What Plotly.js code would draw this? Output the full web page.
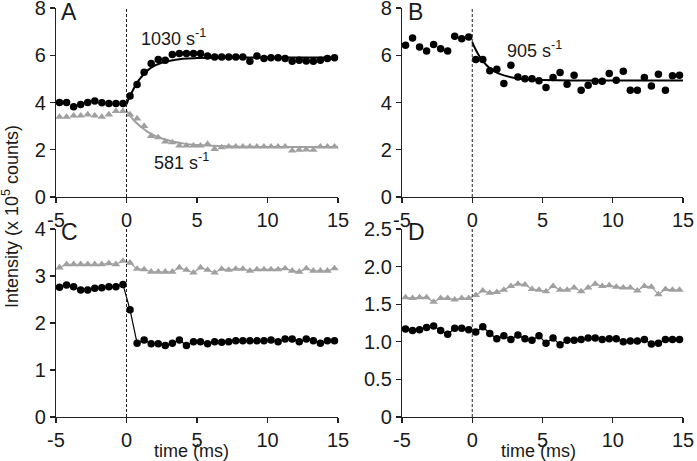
<!DOCTYPE html>
<html>
<head>
<meta charset="utf-8">
<script src="https://cdn.plot.ly/plotly-3.0.1.min.js"></script>
<style>html,body{margin:0;padding:0;background:#fff;}#chart{width:697px;height:461px;}</style>
</head>
<body>
<div id="chart"></div>
<script>
// ---- data ----
const time = [-4.75,-4.25,-3.75,-3.25,-2.75,-2.25,-1.75,-1.25,-0.75,-0.25,0.25,0.75,1.25,1.75,2.25,2.75,3.25,3.75,4.25,4.75,5.25,5.75,6.25,6.75,7.25,7.75,8.25,8.75,9.25,9.75,10.25,10.75,11.25,11.75,12.25,12.75,13.25,13.75,14.25,14.75];
const stimTime = 0;

// Panel A
const aBlack = [4.00,4.00,3.82,3.92,4.00,4.06,3.99,3.96,3.96,3.96,4.28,4.76,5.28,5.65,5.82,5.79,6.03,6.07,6.07,6.07,6.07,5.97,5.93,5.93,5.93,5.93,5.93,5.75,5.97,5.86,5.89,5.89,5.86,5.75,5.79,5.76,5.75,5.79,5.86,5.89];
const aGray  = [3.39,3.39,3.44,3.44,3.49,3.44,3.39,3.49,3.63,3.63,3.49,3.32,3.00,2.58,2.52,2.34,2.31,2.17,2.17,2.17,2.17,2.24,2.03,2.10,2.13,2.13,2.13,2.13,2.13,2.13,2.13,2.13,2.13,1.96,1.99,2.01,1.99,2.13,2.13,2.13];
const aFitBlackT = [0,0.25,0.5,0.75,1,1.5,2,2.5,3,4,5,7,10,15];
const aFitBlackY = [3.92,4.29,4.57,4.83,5.04,5.36,5.56,5.68,5.76,5.85,5.88,5.90,5.90,5.90];
const aFitGrayT  = [0,0.5,1,1.5,2,3,4,5,6,8,10,15];
const aFitGrayY  = [3.65,3.26,2.98,2.76,2.60,2.39,2.27,2.20,2.17,2.13,2.12,2.12];

// Panel B
const bBlack = [6.42,6.73,6.35,6.18,6.45,6.28,6.18,6.80,6.70,6.77,5.82,5.82,5.34,5.41,4.80,5.58,5.08,5.01,5.01,4.92,4.63,5.06,5.27,4.77,5.15,4.52,4.73,4.90,4.90,5.23,4.94,5.32,4.52,4.52,5.06,4.70,5.20,4.52,5.13,5.15];
const bFitT = [0,0.25,0.5,1,1.5,2,3,4,5,7,10,15];
const bFitY = [6.56,6.23,5.97,5.59,5.35,5.20,5.04,4.97,4.95,4.93,4.93,4.93];

// Panel C
const cBlack = [2.76,2.81,2.77,2.70,2.70,2.74,2.75,2.77,2.77,2.82,2.28,1.57,1.64,1.56,1.56,1.52,1.57,1.64,1.52,1.60,1.60,1.56,1.60,1.59,1.60,1.62,1.62,1.62,1.62,1.62,1.64,1.60,1.66,1.66,1.60,1.66,1.62,1.57,1.62,1.62];
const cGray  = [3.18,3.25,3.25,3.25,3.25,3.25,3.25,3.27,3.25,3.32,3.28,3.15,3.14,3.09,3.09,3.09,3.09,3.18,3.13,3.07,3.18,3.13,3.07,3.15,3.13,3.15,3.15,3.11,3.14,3.14,3.14,3.14,3.16,3.11,3.09,3.16,3.11,3.11,3.11,3.16];

// Panel D
const dBlack = [1.17,1.15,1.16,1.19,1.21,1.15,1.10,1.18,1.18,1.16,1.13,1.20,1.11,1.04,1.08,1.03,1.09,1.04,1.02,1.08,0.98,1.05,0.96,1.02,1.02,1.03,1.05,1.05,1.03,1.04,1.04,1.00,1.01,1.01,1.03,0.97,0.98,1.03,1.03,1.03];
const dGray  = [1.59,1.58,1.59,1.59,1.53,1.58,1.58,1.56,1.58,1.58,1.62,1.68,1.65,1.66,1.69,1.74,1.77,1.76,1.70,1.69,1.67,1.74,1.69,1.69,1.72,1.67,1.72,1.77,1.74,1.75,1.73,1.72,1.72,1.68,1.74,1.73,1.63,1.70,1.69,1.69];

const xTicks = [-5,0,5,10,15];
const yTicksAB = [0,2,4,6,8];
const yTicksC = [0,1,2,3,4];
const yTicksD = [0,0.5,1.0,1.5,2.0,2.5];
const yTickTextD = ['0','0.5','1.0','1.5','2.0','2.5'];
const panelLetters = ['A','B','C','D'];
const rates = ['1030 s<sup>-1</sup>','581 s<sup>-1</sup>','905 s<sup>-1</sup>'];

// ---- styles ----
const BLACK = '#000000';
const GRAY = '#a0a0a0';
const FONT = 'Liberation Sans';
const TXT = '#1a1a1a';
const dot = (ax) => ({type:'scatter', mode:'markers', marker:{color:BLACK, size:7.5, symbol:'circle'}, cliponaxis:false, xaxis:'x'+ax, yaxis:'y'+ax, showlegend:false, hoverinfo:'skip'});
const tri = (ax) => ({type:'scatter', mode:'markers', marker:{color:GRAY, size:7.5, symbol:'triangle-up'}, cliponaxis:false, xaxis:'x'+ax, yaxis:'y'+ax, showlegend:false, hoverinfo:'skip'});

const traces = [];
// A
traces.push(Object.assign(tri(''), {x:time, y:aGray}));
traces.push(Object.assign(dot(''), {x:time, y:aBlack}));
traces.push({type:'scatter', mode:'lines', x:aFitGrayT, y:aFitGrayY, line:{color:GRAY, width:2, shape:'spline'}, xaxis:'x', yaxis:'y', showlegend:false, hoverinfo:'skip'});
traces.push({type:'scatter', mode:'lines', x:aFitBlackT, y:aFitBlackY, line:{color:BLACK, width:2, shape:'spline'}, xaxis:'x', yaxis:'y', showlegend:false, hoverinfo:'skip'});
// B
traces.push(Object.assign(dot('2'), {x:time, y:bBlack}));
traces.push({type:'scatter', mode:'lines', x:bFitT, y:bFitY, line:{color:BLACK, width:2, shape:'spline'}, xaxis:'x2', yaxis:'y2', showlegend:false, hoverinfo:'skip'});
// C
traces.push(Object.assign(tri('3'), {x:time, y:cGray, mode:'lines+markers', line:{color:GRAY, width:1.2}}));
traces.push(Object.assign(dot('3'), {x:time, y:cBlack, mode:'lines+markers', line:{color:BLACK, width:1.2}}));
// D
traces.push(Object.assign(tri('4'), {x:time, y:dGray, mode:'lines+markers', line:{color:GRAY, width:1.2}}));
traces.push(Object.assign(dot('4'), {x:time, y:dBlack, mode:'lines+markers', line:{color:BLACK, width:1.2}}));

const W = 697, H = 461;
const px2x = (p) => p / W;
const px2y = (p) => 1 - p / H;

const baseX = {range:[-5,15], tickvals:xTicks, ticktext:xTicks.map(String), showline:true, linecolor:'#222', linewidth:1.2, ticks:'outside', ticklen:5, tickwidth:1.2, tickcolor:'#222', showgrid:false, zeroline:false, tickfont:{family:FONT, size:20, color:TXT}, ticklabeloverflow:'allow', fixedrange:true};
const baseY = {showline:true, linecolor:'#222', linewidth:1.2, ticks:'outside', ticklen:5, tickwidth:1.2, tickcolor:'#222', showgrid:false, zeroline:false, tickfont:{family:FONT, size:20, color:TXT}, ticklabeloverflow:'allow', fixedrange:true};

const domXL = [px2x(56), px2x(338)];
const domXR = [px2x(402), px2x(683)];
const domYT = [px2y(197), px2y(8)];
const domYB = [px2y(417), px2y(229)];

const letter = (t, xp, yp) => ({text:t, xref:'paper', yref:'paper', x:px2x(xp), y:px2y(yp), xanchor:'left', yanchor:'middle', showarrow:false, font:{family:FONT, size:23, color:TXT}});

const layout = {
  width:W, height:H,
  margin:{l:0, r:0, t:0, b:0},
  paper_bgcolor:'#fff', plot_bgcolor:'#fff',
  showlegend:false,
  xaxis: Object.assign({}, baseX, {domain:domXL, anchor:'y'}),
  yaxis: Object.assign({}, baseY, {domain:domYT, anchor:'x', range:[0,8], tickvals:yTicksAB, ticktext:yTicksAB.map(String)}),
  xaxis2: Object.assign({}, baseX, {domain:domXR, anchor:'y2'}),
  yaxis2: Object.assign({}, baseY, {domain:domYT, anchor:'x2', range:[0,8], tickvals:yTicksAB, ticktext:yTicksAB.map(String)}),
  xaxis3: Object.assign({}, baseX, {domain:domXL, anchor:'y3'}),
  yaxis3: Object.assign({}, baseY, {domain:domYB, anchor:'x3', range:[0,4], tickvals:yTicksC, ticktext:yTicksC.map(String)}),
  xaxis4: Object.assign({}, baseX, {domain:domXR, anchor:'y4'}),
  yaxis4: Object.assign({}, baseY, {domain:domYB, anchor:'x4', range:[0,2.5], tickvals:yTicksD, ticktext:yTickTextD}),
  shapes: ['','2','3','4'].map(s => ({type:'line', xref:'x'+s, yref:'y'+s+' domain', x0:stimTime, x1:stimTime, y0:0, y1:1, line:{color:'#222', width:1, dash:'3px,2px'}})),
  annotations: [
    letter(panelLetters[0], 59, 12),
    letter(panelLetters[1], 406, 12),
    letter(panelLetters[2], 59, 232),
    letter(panelLetters[3], 406, 232),
    {text:rates[0], xref:'x', yref:'y', x:3.3, y:6.75, showarrow:false, font:{family:FONT, size:18, color:TXT}},
    {text:rates[1], xref:'x', yref:'y', x:3.9, y:1.5, showarrow:false, font:{family:FONT, size:18, color:TXT}},
    {text:rates[2], xref:'x2', yref:'y2', x:4.4, y:6.25, showarrow:false, font:{family:FONT, size:18, color:TXT}},
    {text:'time (ms)', xref:'paper', yref:'paper', x:px2x(191), y:px2y(451), xanchor:'center', yanchor:'middle', showarrow:false, font:{family:FONT, size:18, color:TXT}},
    {text:'time (ms)', xref:'paper', yref:'paper', x:px2x(538), y:px2y(451), xanchor:'center', yanchor:'middle', showarrow:false, font:{family:FONT, size:18, color:TXT}},
    {text:'Intensity (x 10<sup>5</sup> counts)', xref:'paper', yref:'paper', x:px2x(10), y:px2y(217), xanchor:'center', yanchor:'middle', textangle:-90, showarrow:false, font:{family:FONT, size:18, color:TXT}}
  ]
};

Plotly.newPlot('chart', traces, layout, {staticPlot:true, displayModeBar:false});
</script>
</body>
</html>
